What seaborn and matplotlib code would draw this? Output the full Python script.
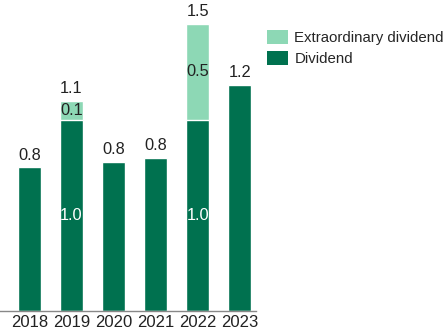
import numpy as np
import pandas as pd
import matplotlib
matplotlib.use("Agg")
import matplotlib.pyplot as plt
import seaborn as sns
from matplotlib.patches import Patch

years = ["2018", "2019", "2020", "2021", "2022", "2023"]
dividend = [0.75, 1.0, 0.78, 0.80, 1.0, 1.18]
extra = [0.0, 0.1, 0.0, 0.0, 0.5, 0.0]
total_labels = ["0.8", "1.1", "0.8", "0.8", "1.5", "1.2"]
inner_labels = ["", "1.0", "", "", "1.0", ""]
extra_labels = ["", "0.1", "", "", "0.5", ""]

DARK = "#00714f"
LIGHT = "#8dd8b5"

sns.set_style("white")
plt.rcParams["font.family"] = ["Liberation Sans", "DejaVu Sans"]

df = pd.DataFrame({"year": years, "dividend": dividend, "extra": extra})
df["total"] = df["dividend"] + df["extra"]

fig = plt.figure(figsize=(4.46, 3.29), dpi=100)
ax = fig.add_axes([0.0, 0.055, 0.575, 0.93])

# stacked look: total in light green, dividend drawn over it
sns.barplot(data=df, x="year", y="total", color=LIGHT, width=0.56,
            saturation=1, ax=ax)
sns.barplot(data=df, x="year", y="dividend", color=DARK, width=0.56,
            saturation=1, ax=ax)

FS = 11.8
for i, row in df.iterrows():
    ax.text(i, row["total"] + 0.025, total_labels[i], ha="center", va="bottom",
            fontsize=FS, color="#222222")
    if inner_labels[i]:
        ax.text(i, row["dividend"] / 2, inner_labels[i], ha="center",
                va="center", fontsize=FS, color="white")
    if extra_labels[i]:
        ax.text(i, row["dividend"] + row["extra"] / 2, extra_labels[i],
                ha="center", va="center", fontsize=FS, color="#222222")

ax.set_xlim(-0.7, 5.4)
ax.set_ylim(0, 1.6)
ax.set_xlabel("")
ax.set_ylabel("")
ax.set_yticks([])
ax.tick_params(axis="x", length=0, labelsize=12, pad=3, colors="#222222")
for s in ["top", "right", "left"]:
    ax.spines[s].set_visible(False)
ax.spines["bottom"].set_color("#888888")
ax.spines["bottom"].set_linewidth(1.0)

handles = [Patch(facecolor=LIGHT, edgecolor="none", label="Extraordinary dividend"),
           Patch(facecolor=DARK, edgecolor="none", label="Dividend")]
fig.legend(handles=handles, loc="upper left", bbox_to_anchor=(0.598, 0.91),
           frameon=False, fontsize=10.8, handlelength=1.45, handleheight=1.1,
           handletextpad=0.4, labelspacing=0.4, borderaxespad=0, borderpad=0)

fig.savefig("out.png", dpi=100)
